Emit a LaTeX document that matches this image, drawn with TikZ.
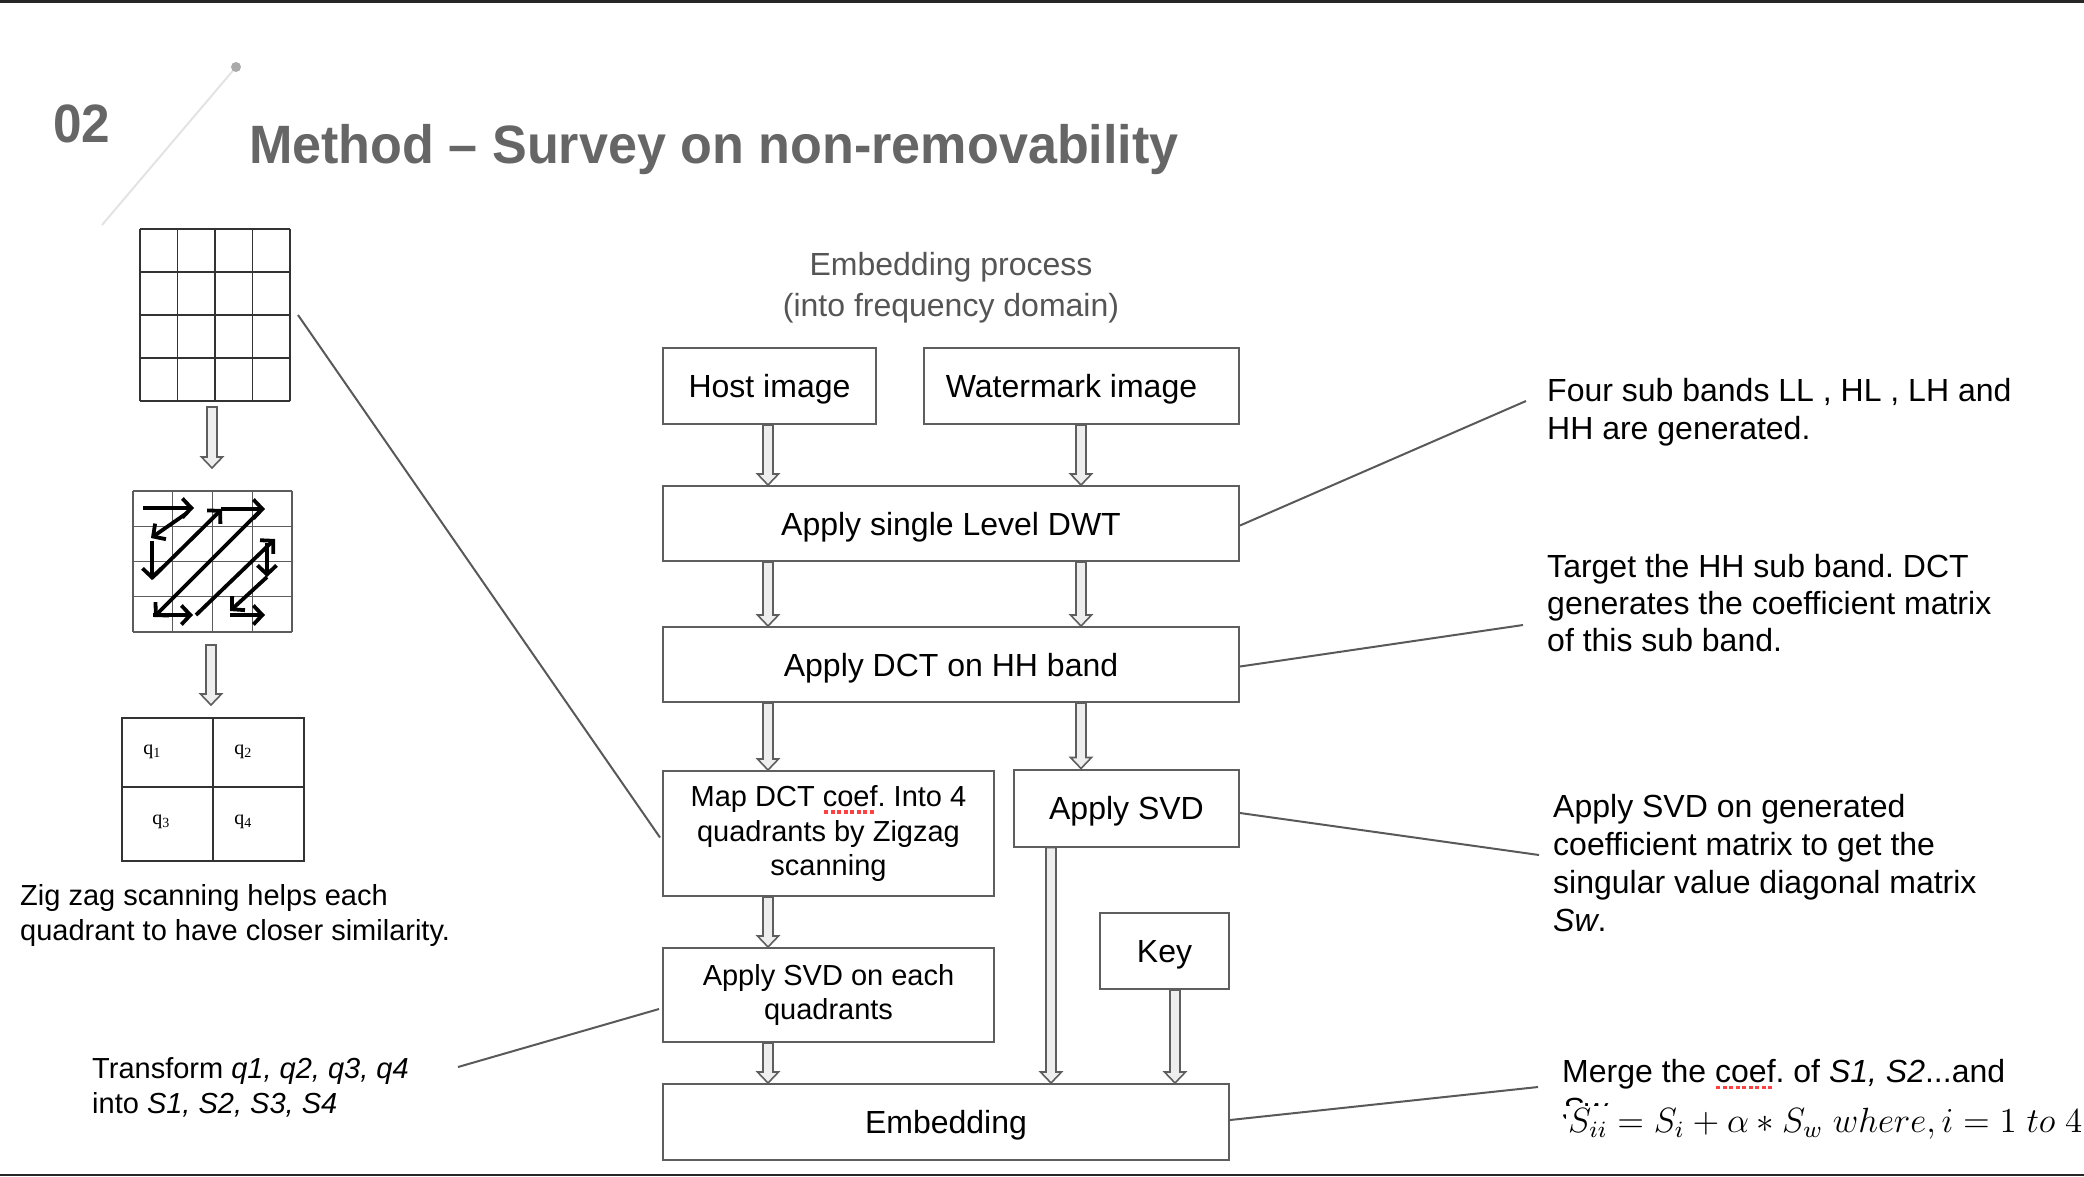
\documentclass[tikz,border=0pt]{standalone}
\usepackage{fontspec}
\setmainfont{Liberation Sans}
\newfontfamily\serifq{Liberation Serif}
\usetikzlibrary{arrows.meta,calc}
\frenchspacing
\definecolor{boxgray}{HTML}{5E5E5E}
\definecolor{titlegray}{HTML}{666666}
\definecolor{subgray}{HTML}{555555}
\definecolor{arrowfill}{HTML}{EEEEEE}
\definecolor{linegray}{HTML}{595959}
\definecolor{decoline}{HTML}{E3E3E3}
\definecolor{decodot}{HTML}{AAAAAA}
\definecolor{gridcol}{HTML}{333333}
\newcommand\fs[2]{\fontsize{#1}{#2}\selectfont}
\newcommand\redul[1]{\setbox0=\hbox{#1}\rlap{\color{red!75!white}\raisebox{-7pt}{\leaders\hbox to 6.5pt{\hss\vrule width 4pt height 3.2pt\hss}\hskip\wd0}}\box0}
\newcommand\barrow[2]{\draw[blockarrow] ($(#1)+(-5,0)$) -- ($(#2)+(-5,-11)$) -- ($(#2)+(-10.5,-11)$) -- (#2) -- ($(#2)+(10.5,-11)$) -- ($(#2)+(5,-11)$) -- ($(#1)+(5,0)$) -- cycle;}
\tikzset{
  stepbox/.style={draw=boxgray, line width=2pt, inner sep=0pt, align=center, font=\fs{32}{38}},
  onel/.style={text height=23pt, text depth=0pt},
  smallbox/.style={stepbox, font=\fs{29}{34.5}},
  blockarrow/.style={draw=boxgray, fill=arrowfill, line width=1.6pt, line join=miter},
  conn/.style={draw=linegray, line width=2pt},
  zz/.style={line width=3.8pt, -{Straight Barb[length=9pt,width=19pt,line width=3.8pt]}},
  note/.style={anchor=north west, inner sep=0pt, align=left, font=\fs{32}{38}},
  smallnote/.style={note, font=\fs{29}{35}},
  qlab/.style={inner sep=0pt, font=\serifq\fs{20}{22}},
}
\begin{document}
\begin{tikzpicture}[x=1pt,y=-1pt]
\useasboundingbox (0,0) rectangle (2084,1176);
% frame lines
\draw[line width=3pt, black!85] (0,1.5) -- (2084,1.5);
\draw[line width=2pt, black!85] (0,1175) -- (2084,1175);
% decoration
\draw[decoline, line width=2pt] (102,225) -- (236,67);
\fill[decodot] (236,67) circle (5);
\node[anchor=base west, inner sep=0pt, text=titlegray, font=\bfseries\fs{54}{60}] (num) at (53,142) {\scalebox{0.95}[1]{02}};
\node[anchor=base west, inner sep=0pt, text=titlegray, font=\bfseries\fs{54}{60}] (title) at (249,163) {\scalebox{0.965}[1]{Method – Survey on non-removability}};

% left figures
\foreach \i in {0,...,4} {
  \draw[gridcol, line width=1.8pt] ({140+37.5*\i},229) -- ({140+37.5*\i},401);
  \draw[gridcol, line width=1.8pt] (140,{229+43*\i}) -- (290,{229+43*\i});
}
\foreach \i in {0,...,4} {
  \draw[gridcol!80, line width=1.4pt] ({133+39.75*\i},491) -- ({133+39.75*\i},632);
  \draw[gridcol!80, line width=1.4pt] (133,{491+35.25*\i}) -- (292,{491+35.25*\i});
}
\draw[zz] (143,508) -- (194,508);
\draw[zz] (187,513) -- (151,538);
\draw[zz] (152,541) -- (152,580);
\draw[zz] (152,578) -- (222,509);
\draw[zz] (221,509) -- (265,509);
\draw[zz] (259,512) -- (154,617);
\draw[zz] (153,615) -- (193,615);
\draw[zz] (196,615) -- (275,539);
\draw[zz] (267,543) -- (267,577);
\draw[zz] (267,577) -- (230,611);
\draw[zz] (230,615) -- (265,615);
\draw[gridcol, line width=1.5pt] (122,718) rectangle (304,861);
\draw[gridcol, line width=1.5pt] (213,718) -- (213,861);
\draw[gridcol, line width=1.5pt] (122,787) -- (304,787);
\node[qlab] (q1) at (152,752) {q\textsubscript{1}};
\node[qlab] (q2) at (243,752) {q\textsubscript{2}};
\node[qlab] (q3) at (161,822) {q\textsubscript{3}};
\node[qlab] (q4) at (243,822) {q\textsubscript{4}};
\coordinate (la1) at (212,407); \coordinate (la1e) at (212,468);
\coordinate (la2) at (211,645); \coordinate (la2e) at (211,705);
\barrow{la1}{la1e}
\barrow{la2}{la2e}
\node[smallnote] (zigcap) at (20,884) {Zig zag scanning helps each\\quadrant to have closer similarity.};
\node[smallnote] (trans) at (92,1057) {Transform \textit{q1, q2, q3, q4}\\into \textit{S1, S2, S3, S4}};

% center
\node[anchor=base, inner sep=0pt, align=center, text=subgray, font=\fs{32}{41}] (ptitle) at (951,316) {Embedding process\\(into frequency domain)};
\node[stepbox, onel, minimum width=213pt, minimum height=76pt] (host) at (769.5,386) {Host image};
\node[stepbox, onel, minimum width=315pt, minimum height=76pt] (wm) at (1081.5,386) {\hspace*{-20pt}Watermark image};
\node[stepbox, onel, minimum width=576pt, minimum height=75pt] (dwt) at (951,523.5) {Apply single Level DWT};
\node[stepbox, onel, minimum width=576pt, minimum height=75pt] (dct) at (951,664.5) {Apply DCT on HH band};
\node[smallbox, minimum width=331pt, minimum height=125pt] (map) at (828.5,833.5) {Map DCT \redul{coef}. Into 4\\quadrants by Zigzag\\scanning};
\node[stepbox, onel, minimum width=225pt, minimum height=77pt] (svd) at (1126.5,808) {Apply SVD};
\node[smallbox, minimum width=331pt, minimum height=94pt] (svdq) at (828.5,995) {Apply SVD on each\\quadrants};
\node[stepbox, onel, minimum width=129pt, minimum height=76pt] (key) at (1164.5,951) {Key};
\node[stepbox, onel, minimum width=566pt, minimum height=76pt] (emb) at (946,1122) {Embedding};
\coordinate (cL) at (768,0);
\coordinate (cR) at (1081,0);
\coordinate (cS) at (1051,0);
\coordinate (cK) at (1175,0);
\barrow{cL |- host.south}{cL |- dwt.north}
\barrow{cR |- wm.south}{cR |- dwt.north}
\barrow{cL |- dwt.south}{cL |- dct.north}
\barrow{cR |- dwt.south}{cR |- dct.north}
\barrow{cL |- dct.south}{cL |- map.north}
\barrow{cR |- dct.south}{cR |- svd.north}
\barrow{cL |- map.south}{cL |- svdq.north}
\barrow{cL |- svdq.south}{cL |- emb.north}
\barrow{cS |- svd.south}{cS |- emb.north}
\barrow{cK |- key.south}{cK |- emb.north}

% right notes
\node[note] (n1) at (1547,377.7) {Four sub bands LL , HL , LH and\\HH are generated.};
\node[note, font=\fs{32}{37}] (n2) at (1547,553.7) {Target the HH sub band. DCT\\generates the coefficient matrix\\of this sub band.};
\node[note] (n3) at (1553,793.7) {Apply SVD on generated\\coefficient matrix to get the\\singular value diagonal matrix\\\textit{Sw}.};
\node[note] (n4) at (1562,1058.7) {Merge the \redul{coef}. of \textit{S1, S2}...and\\\textit{Sw}};
\node[anchor=base west, inner sep=2pt, fill=white, font=\fs{12}{14}] (formula) at (1566,1132) {\scalebox{2.92}{$S_{ii} = S_i + \alpha * S_w\ where, i = 1\ to\ 4.$}};

% connectors
\coordinate (g1c) at (298,315);
\coordinate (n1c) at (1526,401);
\coordinate (n2c) at (1523,625);
\coordinate (n3c) at (1539,855);
\coordinate (trc) at (458,1067);
\coordinate (n4c) at (1538,1087);
\draw[conn] (g1c) -- ($(map.west)+(-2,4)$);
\draw[conn] ($(dwt.east)+(0,2)$) -- (n1c);
\draw[conn] ($(dct.east)+(0,2)$) -- (n2c);
\draw[conn] ($(svd.east)+(0,5)$) -- (n3c);
\draw[conn] ($(svdq.west)+(-3,14)$) -- (trc);
\draw[conn] ($(emb.east)+(0,-2)$) -- (n4c);
\end{tikzpicture}
\end{document}
